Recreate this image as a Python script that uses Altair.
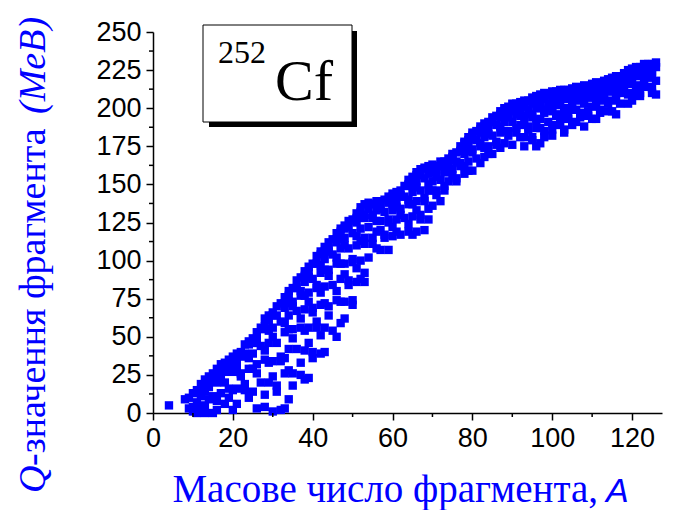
import altair as alt
import pandas as pd

# ---- data: mass number A and the Q-values (MeV) plotted at it ----
mass_numbers = [4] + list(range(8, 127))
q_values = [
    [5],                                   # 4
    [9], [10, 3], [13, 4, 1], [15, 7, 0], [19, 11, 2], [22, 14, 5, 0], [24, 17, 9],   # 8-14
    [26, 21, 11, 0], [29, 20, 8, 2], [32, 24, 13], [33, 27, 20, 6], [35, 29, 16, 10],  # 15-19
    [37, 33, 27, 15, 2], [39, 34, 30, 16, 6], [40, 26, 24], [45, 39, 37, 19, 15],        # 20-23
    [47, 45, 36, 29, 10], [49, 46, 39, 29, 14], [53, 48, 46, 32, 26, 3], [56, 44, 20],   # 24-27
    [62, 57, 55, 41, 35, 12, 4], [64, 61, 54, 46, 33, 20], [66, 64, 56, 50, 34, 24, 1],  # 28-30
    [70, 64, 46, 18, 14], [72, 60, 37, 34, 2], [76, 72, 69, 59, 53, 36, 26, 3],          # 31-33
    [80, 77, 73, 64, 55, 42, 28, 9], [82, 73, 70, 55, 49, 26, 18], [87, 82, 67, 42],     # 34-36
    [89, 80, 77, 62, 56, 33, 25], [93, 90, 86, 77, 68, 54, 41, 22],                      # 37-38
    [96, 93, 89, 79, 73, 56, 46, 23], [98, 88, 69, 66, 40, 36], [103, 98, 84, 82, 60, 56],  # 39-41
    [106, 104, 97, 92, 79, 71, 51, 39], [109, 106, 101, 94, 83, 72, 56, 40],             # 42-43
    [112, 108, 106, 94, 90, 70, 64], [114, 104, 84, 54],                                 # 44-45
    [118, 114, 112, 102, 98, 80, 74, 50], [121, 119, 114, 108, 98, 88, 73, 59],          # 46-47
    [123, 121, 115, 110, 98, 91, 73, 62], [126, 122, 108, 87, 84],                       # 48-49
    [127, 118, 101, 99, 74, 71], [131, 128, 125, 116, 110, 95, 86],                      # 50-51
    [135, 132, 128, 121, 113, 100, 88], [137, 130, 128, 115, 111, 92, 86],               # 52-53
    [138, 134, 122, 102], [137, 130, 128, 115, 111], [139, 137, 133, 126, 119, 108],     # 54-56
    [139, 136, 134, 126, 120, 107], [140, 132, 117, 115], [142, 138, 127, 125, 107],     # 57-59
    [144, 142, 137, 133, 122, 116], [145, 143, 139, 135, 127, 119],                      # 60-61
    [146, 143, 142, 134, 130, 117], [149, 142, 128], [153, 150, 149, 140, 137, 124, 119],  # 62-64
    [155, 153, 149, 145, 137, 129, 117], [158, 156, 152, 148, 139, 133, 119],            # 65-66
    [160, 156, 146, 130, 127], [161, 154, 141, 139, 120], [162, 160, 157, 150, 146, 134, 127],  # 67-69
    [163, 161, 158, 152, 146, 136], [162, 157, 155, 146, 143], [165, 162, 153, 139],     # 70-72
    [165, 160, 158, 149, 146], [167, 165, 163, 158, 152], [170, 168, 166, 160, 156],     # 73-75
    [171, 165, 154, 152], [175, 172, 164, 162], [178, 177, 173, 170, 162, 157],          # 76-78
    [181, 179, 176, 172, 165, 159], [184, 182, 180, 173, 171, 159], [185, 179, 167],     # 79-81
    [188, 186, 184, 177, 175, 164], [190, 188, 185, 181, 174, 168],                      # 82-83
    [191, 190, 186, 183, 175, 170], [194, 191, 182, 170], [195, 189, 178, 176],          # 84-86
    [198, 196, 194, 188, 184, 174], [200, 198, 196, 191, 185, 177],                      # 87-88
    [201, 196, 194, 185, 182], [203, 200, 191, 176], [203, 198, 196, 187, 184],          # 89-91
    [204, 202, 200, 195, 189, 181], [205, 203, 201, 195, 191, 181, 175],                 # 92-93
    [205, 199, 188, 186], [207, 204, 196, 194, 181, 179],                                # 94-95
    [208, 207, 203, 200, 192, 187, 175], [209, 207, 204, 200, 193, 187, 177],            # 96-97
    [210, 208, 206, 199, 197, 185, 181], [209, 203, 191],                                # 98-99
    [211, 209, 207, 200, 198, 186, 182], [211, 209, 206, 202, 195, 189],                 # 100-101
    [212, 211, 207, 204, 196, 191], [212, 209, 200, 186, 184], [212, 206, 195, 193],     # 102-104
    [213, 211, 209, 203, 199, 189], [214, 212, 210, 205, 199, 191],                      # 105-106
    [213, 208, 206, 197, 194], [215, 212, 203, 188], [214, 209, 207, 198, 195],          # 107-109
    [216, 214, 212, 207, 201, 193], [217, 215, 213, 207, 203, 193],                      # 110-111
    [216, 210, 199, 197], [218, 215, 207, 205], [219, 218, 214, 211, 203, 198],          # 112-114
    [220, 218, 215, 211, 205, 198], [221, 219, 217, 210, 208, 196], [221, 215, 203],     # 115-117
    [223, 221, 219, 212, 210], [225, 223, 220, 216, 209, 203],                           # 118-119
    [226, 225, 221, 218, 210, 205], [227, 224, 215], [227, 221, 210, 208],               # 120-122
    [229, 227, 225, 219, 215], [229, 227, 225, 220, 214], [229, 224, 222, 213, 210],     # 123-125
    [230, 227, 218, 209],                                                                # 126
]

x_ticks = [0, 20, 40, 60, 80, 100, 120]
x_minor = [10, 30, 50, 70, 90, 110]
y_ticks = [0, 25, 50, 75, 100, 125, 150, 175, 200, 225, 250]
y_minor = [12.5, 37.5, 62.5, 87.5, 112.5, 137.5, 162.5, 187.5, 212.5, 237.5]

rows = [{"A": a, "Q": q} for a, qs in zip(mass_numbers, q_values) for q in qs]
df = pd.DataFrame(rows)

W, H = 509, 381
BLUE = "#0000ff"
xs = alt.Scale(domain=[0, 127.5], nice=False, zero=False)
ys = alt.Scale(domain=[0, 250], nice=False, zero=False)

axis_common = dict(grid=False, domainColor="black", domainWidth=1.5, tickColor="black",
                   tickWidth=1.5, tickSize=7, labelFont="Liberation Sans", labelFontSize=27,
                   labelColor="black", title=None, labelFlush=False, labelOverlap=False)
xaxis = alt.Axis(values=x_ticks, labelPadding=5, **axis_common)
yaxis = alt.Axis(values=y_ticks, labelPadding=5, **axis_common)

points = alt.Chart(df).mark_square(size=70, color=BLUE, opacity=1, strokeWidth=0).encode(
    x=alt.X("A:Q", scale=xs, axis=xaxis),
    y=alt.Y("Q:Q", scale=ys, axis=yaxis),
)

xminor = alt.Chart(pd.DataFrame({"A": x_minor})).mark_rule(color="black", strokeWidth=1.5).encode(
    x=alt.X("A:Q", scale=xs, axis=xaxis), y=alt.value(H), y2=alt.value(H + 4))
yminor = alt.Chart(pd.DataFrame({"Q": y_minor})).mark_rule(color="black", strokeWidth=1.5).encode(
    y=alt.Y("Q:Q", scale=ys, axis=yaxis), x=alt.value(0), x2=alt.value(-4))

one = pd.DataFrame({"k": [0]})
shadow = alt.Chart(one).mark_rect(color="black").encode(
    x=alt.value(56), x2=alt.value(204), y=alt.value(-1), y2=alt.value(95))
box = alt.Chart(one).mark_rect(fill="white", stroke="black", strokeWidth=1).encode(
    x=alt.value(50), x2=alt.value(199), y=alt.value(-7), y2=alt.value(90))
t252 = alt.Chart(one).mark_text(align="left", baseline="alphabetic", font="Liberation Serif",
                                fontSize=32, color="black").encode(
    x=alt.value(65), y=alt.value(31), text=alt.value("252"))
tcf = alt.Chart(one).mark_text(align="left", baseline="alphabetic", font="Liberation Serif",
                               fontSize=58, color="black").encode(
    x=alt.value(122), y=alt.value(68), text=alt.value("Cf"))

xt1 = alt.Chart(one).mark_text(align="right", baseline="alphabetic", font="Liberation Serif",
                               fontSize=39, color=BLUE).encode(
    x=alt.value(445), y=alt.value(470), text=alt.value("Масове число фрагмента,"))
xt2 = alt.Chart(one).mark_text(align="left", baseline="alphabetic", font="Liberation Sans",
                               fontStyle="italic", fontSize=34, color=BLUE).encode(
    x=alt.value(453), y=alt.value(470), text=alt.value("A"))

yt1 = alt.Chart(one).mark_text(align="left", baseline="alphabetic", font="Liberation Serif",
                               fontStyle="italic", fontSize=38, color=BLUE, angle=270).encode(
    x=alt.value(-108), y=alt.value(461), text=alt.value("Q"))
yt2 = alt.Chart(one).mark_text(align="left", baseline="alphabetic", font="Liberation Serif",
                               fontSize=38, color=BLUE, angle=270).encode(
    x=alt.value(-108), y=alt.value(434), text=alt.value("-значення фрагмента"))
yt3 = alt.Chart(one).mark_text(align="left", baseline="alphabetic", font="Liberation Serif",
                               fontStyle="italic", fontSize=38, color=BLUE, angle=270).encode(
    x=alt.value(-108), y=alt.value(82), text=alt.value("(MeB)"))

chart = alt.layer(points, xminor, yminor, shadow, box, t252, tcf, xt1, xt2, yt1, yt2, yt3).properties(
    width=W, height=H,
    autosize=alt.AutoSizeParams(type="none"),
    padding={"left": 153, "top": 32, "right": 38, "bottom": 97},
    background="white",
).configure_view(stroke=None)

chart.save("out.html", embed_options={"renderer": "svg", "actions": False})
